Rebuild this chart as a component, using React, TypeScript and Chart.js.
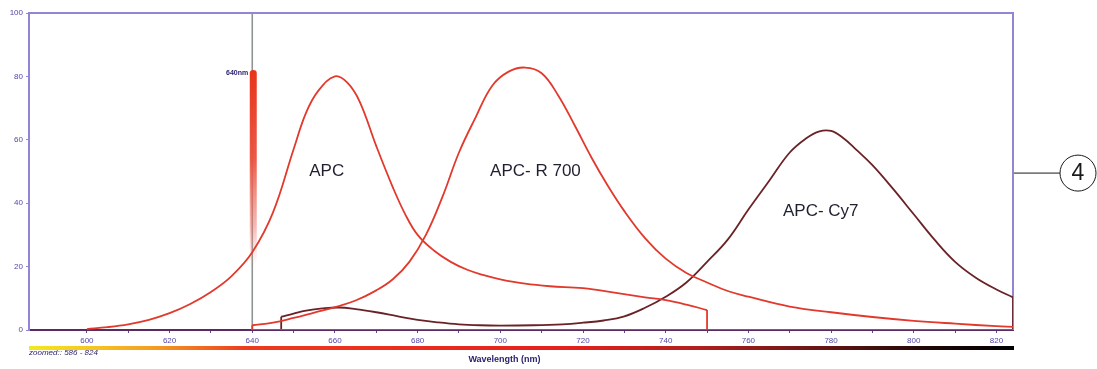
import React, { useEffect, useRef } from "react";
import { Chart, registerables } from "chart.js";

Chart.register(...registerables);

// ---------- data ----------
const xMin = 586;
const xMax = 824;
const xTickStart = 600;
const xTickLabels = [600, 620, 640, 660, 680, 700, 720, 740, 760, 780, 800, 820];

const apcWl = [600, 605, 610, 615, 620, 625, 630, 635, 640, 645, 650, 653, 656, 660, 663, 666, 670, 674, 677, 680, 684, 688, 692, 696, 700, 706, 712, 720, 728, 735, 740, 745, 750];
const apcVal = [0.3, 0.9, 1.8, 3.2, 5.3, 8.2, 12, 17, 24.5, 37, 57, 68.5, 75.5, 80, 78, 72, 58, 45, 36.5, 30, 25, 21.5, 19, 17.3, 16, 14.6, 13.8, 13.2, 11.7, 10.3, 9.4, 8, 6.3];

const r700Wl = [640, 645, 650, 655, 660, 665, 670, 674, 678, 682, 686, 690, 694, 698, 702, 706, 710, 714, 718, 722, 726, 730, 735, 740, 745, 750, 755, 760, 770, 780, 790, 800, 810, 820, 824];
const r700Val = [1.5, 2.3, 3.8, 5.5, 7.2, 9.3, 12.5, 16, 21.5, 30, 42, 56, 67, 77, 81.5, 82.8, 81, 74, 64.5, 54.5, 45.5, 37.5, 29, 22.5, 18, 15, 12.3, 10.5, 7.4, 5.6, 4.1, 2.9, 2, 1.2, 1];

const cy7Wl = [647, 650, 653, 657, 661, 665, 670, 675, 680, 685, 690, 695, 700, 708, 715, 720, 725, 730, 735, 740, 745, 750, 755, 760, 765, 770, 774, 777, 780, 783, 786, 790, 795, 800, 805, 810, 815, 820, 824];
const cy7Val = [4.2, 5.2, 6.1, 6.8, 7.1, 6.6, 5.6, 4.4, 3.2, 2.4, 1.8, 1.5, 1.4, 1.5, 1.8, 2.3, 3, 4.3, 7, 10.5, 15, 21.5, 28.5, 38, 47, 56, 60.5, 62.6, 62.8, 60.5, 57, 52, 44.5, 36.5, 28.5, 21.5, 16.5, 12.8, 10.3];

const curveLabels = ["APC", "APC- R 700", "APC- Cy7"];
const curveLabelWl = [658, 708.5, 777.5];
const curveLabelVal = [50, 50, 37.5];

const markerWl = 640;
const markerTop = 82;
const markerText = "640nm";

const xTitle = "Wavelength (nm)";
const xTitleWl = 701;
const zoomText = "zoomed:: 586 - 824";
const calloutText = "4";
const calloutVal = 49.5;

// ---------- styles ----------
const RED = "#e2392c";
const DARK = "#6a2226";
const AXIS_PURPLE = "#9285d6";
const TICK_BLUE = "#5247a8";
const TEXT_NAVY = "#2b2370";

const pts = (xs: number[], ys: number[]) => xs.map((x, i) => ({ x, y: ys[i] }));
const last = (a: number[]) => a[a.length - 1];

const decor = {
  id: "decor",
  beforeDatasetsDraw(chart: any) {
    const { ctx, chartArea: ca, scales } = chart;
    const xs = scales.x;
    const ys = scales.y;
    ctx.save();
    ctx.strokeStyle = AXIS_PURPLE;
    ctx.lineWidth = 2;
    ctx.beginPath();
    ctx.moveTo(ca.left, ca.top);
    ctx.lineTo(ca.right, ca.top);
    ctx.lineTo(ca.right, ca.bottom);
    ctx.stroke();
    const mx = xs.getPixelForValue(markerWl);
    ctx.strokeStyle = "#8f9592";
    ctx.lineWidth = 1.6;
    ctx.beginPath();
    ctx.moveTo(mx, ca.top);
    ctx.lineTo(mx, ca.bottom);
    ctx.stroke();
    const topY = ys.getPixelForValue(markerTop);
    const botY = ys.getPixelForValue(20);
    const g = ctx.createLinearGradient(0, topY, 0, botY);
    g.addColorStop(0, "rgba(232,52,28,1)");
    g.addColorStop(0.45, "rgba(234,80,60,0.95)");
    g.addColorStop(0.8, "rgba(236,120,110,0.5)");
    g.addColorStop(1, "rgba(240,160,150,0)");
    ctx.fillStyle = g;
    const bw = 7;
    ctx.beginPath();
    ctx.moveTo(mx - bw / 2 + 1, botY);
    ctx.lineTo(mx - bw / 2 + 1, topY + 3);
    ctx.quadraticCurveTo(mx - bw / 2 + 1, topY, mx + 1, topY);
    ctx.quadraticCurveTo(mx + bw / 2 + 1, topY, mx + bw / 2 + 1, topY + 3);
    ctx.lineTo(mx + bw / 2 + 1, botY);
    ctx.closePath();
    ctx.fill();
    ctx.fillStyle = TEXT_NAVY;
    ctx.font = "bold 7px 'Liberation Sans', Arial, sans-serif";
    ctx.textAlign = "right";
    ctx.textBaseline = "middle";
    ctx.fillText(markerText, mx - 4, topY + 3);
    ctx.restore();
  },
  afterDatasetsDraw(chart: any) {
    const { ctx, scales } = chart;
    ctx.save();
    ctx.fillStyle = "#1e2030";
    ctx.font = "17px 'Liberation Sans', Arial, sans-serif";
    ctx.textAlign = "center";
    ctx.textBaseline = "middle";
    curveLabels.forEach((t, i) => {
      ctx.fillText(t, scales.x.getPixelForValue(curveLabelWl[i]), scales.y.getPixelForValue(curveLabelVal[i]));
    });
    ctx.restore();
  },
  afterDraw(chart: any) {
    const { ctx, chartArea: ca, scales } = chart;
    ctx.save();
    const g = ctx.createLinearGradient(ca.left, 0, ca.right, 0);
    g.addColorStop(0, "#f2e81e");
    g.addColorStop(0.06, "#f6c820");
    g.addColorStop(0.13, "#f49a22");
    g.addColorStop(0.22, "#ee3a1e");
    g.addColorStop(0.55, "#e4201c");
    g.addColorStop(0.68, "#b01f1e");
    g.addColorStop(0.8, "#6a1515");
    g.addColorStop(0.92, "#1a0606");
    g.addColorStop(1, "#000000");
    ctx.fillStyle = g;
    ctx.fillRect(ca.left, ca.bottom + 16, ca.right - ca.left + 1, 4);
    ctx.fillStyle = TEXT_NAVY;
    ctx.font = "italic 8px 'Liberation Sans', Arial, sans-serif";
    ctx.textAlign = "left";
    ctx.textBaseline = "middle";
    ctx.fillText(zoomText, ca.left, ca.bottom + 23);
    ctx.font = "bold 9px 'Liberation Sans', Arial, sans-serif";
    ctx.textAlign = "center";
    ctx.fillText(xTitle, scales.x.getPixelForValue(xTitleWl), ca.bottom + 30);
    const cy = scales.y.getPixelForValue(calloutVal);
    const cx = ca.right + 65;
    ctx.strokeStyle = "#1a1a1a";
    ctx.lineWidth = 1;
    ctx.beginPath();
    ctx.moveTo(ca.right + 1, cy);
    ctx.lineTo(cx - 18, cy);
    ctx.stroke();
    ctx.beginPath();
    ctx.arc(cx, cy, 18, 0, Math.PI * 2);
    ctx.stroke();
    ctx.fillStyle = "#1a1a1a";
    ctx.font = "23px 'Liberation Sans', Arial, sans-serif";
    ctx.textAlign = "center";
    ctx.textBaseline = "middle";
    ctx.fillText(calloutText, cx, cy + 1);
    ctx.restore();
  },
};

export default function App() {
  const ref = useRef<HTMLCanvasElement>(null);

  useEffect(() => {
    if (!ref.current) return;
    const lineBase = {
      pointRadius: 0,
      fill: false,
      borderWidth: 1.8,
    };
    const smooth = { tension: 0.4, cubicInterpolationMode: "default" };
    const chart = new Chart(ref.current, {
      type: "line",
      data: {
        datasets: [
          { ...lineBase, ...smooth, label: "APC", data: pts(apcWl, apcVal), borderColor: RED },
          { ...lineBase, label: "APC end", data: pts([last(apcWl), last(apcWl)], [last(apcVal), 0]), borderColor: RED, tension: 0 },
          { ...lineBase, ...smooth, label: "APC-R700", data: pts(r700Wl, r700Val), borderColor: RED },
          { ...lineBase, label: "R700 start", data: pts([r700Wl[0], r700Wl[0]], [0, r700Val[0]]), borderColor: RED, tension: 0 },
          { ...lineBase, label: "R700 base", data: pts([r700Wl[0], last(r700Wl)], [0, 0]), borderColor: RED, tension: 0 },
          { ...lineBase, ...smooth, label: "APC-Cy7", data: pts(cy7Wl, cy7Val), borderColor: DARK },
          { ...lineBase, label: "Cy7 start", data: pts([cy7Wl[0], cy7Wl[0]], [0, cy7Val[0]]), borderColor: DARK, tension: 0 },
          { ...lineBase, label: "Cy7 end", data: pts([last(cy7Wl), last(cy7Wl)], [last(cy7Val), 0]), borderColor: DARK, tension: 0 },
          { ...lineBase, label: "Cy7 base", data: pts([cy7Wl[0], last(cy7Wl)], [0, 0]), borderColor: "#4a1830", tension: 0 },
        ],
      },
      options: {
        responsive: false,
        animation: false,
        layout: { padding: { top: 13, right: 84, left: 0, bottom: 0 } },
        plugins: {
          legend: { display: false },
          tooltip: { enabled: false },
        },
        scales: {
          x: {
            type: "linear",
            min: xMin,
            max: xMax,
            afterFit: (s: any) => {
              s.height = 39;
            },
            afterBuildTicks: (s: any) => {
              s.ticks = s.ticks.filter((t: any) => t.value >= xTickStart);
            },
            ticks: {
              stepSize: 10,
              includeBounds: false,
              autoSkip: false,
              maxRotation: 0,
              padding: 3,
              color: TICK_BLUE,
              font: { size: 8, family: "'Liberation Sans', Arial, sans-serif" },
              callback: (v: any) => (xTickLabels.includes(Number(v)) ? String(v) : ""),
            },
            grid: { drawOnChartArea: false, drawTicks: true, tickLength: 3, color: TICK_BLUE, lineWidth: 1 },
            border: { color: "#5a2a62", width: 2 },
          },
          y: {
            min: 0,
            max: 100,
            afterFit: (s: any) => {
              s.width = 29;
            },
            ticks: {
              stepSize: 20,
              padding: 3,
              color: TICK_BLUE,
              font: { size: 8, family: "'Liberation Sans', Arial, sans-serif" },
            },
            grid: { drawOnChartArea: false, drawTicks: true, tickLength: 3, color: AXIS_PURPLE, lineWidth: 1 },
            border: { color: AXIS_PURPLE, width: 2 },
          },
        },
      },
      plugins: [decor],
    } as any);
    return () => chart.destroy();
  }, []);

  return (
    <div style={{ position: "fixed", left: 0, top: 0, width: 1097, height: 369, background: "#fff" }}>
      <canvas ref={ref} width={1097} height={369} style={{ width: 1097, height: 369, display: "block" }} />
    </div>
  );
}
